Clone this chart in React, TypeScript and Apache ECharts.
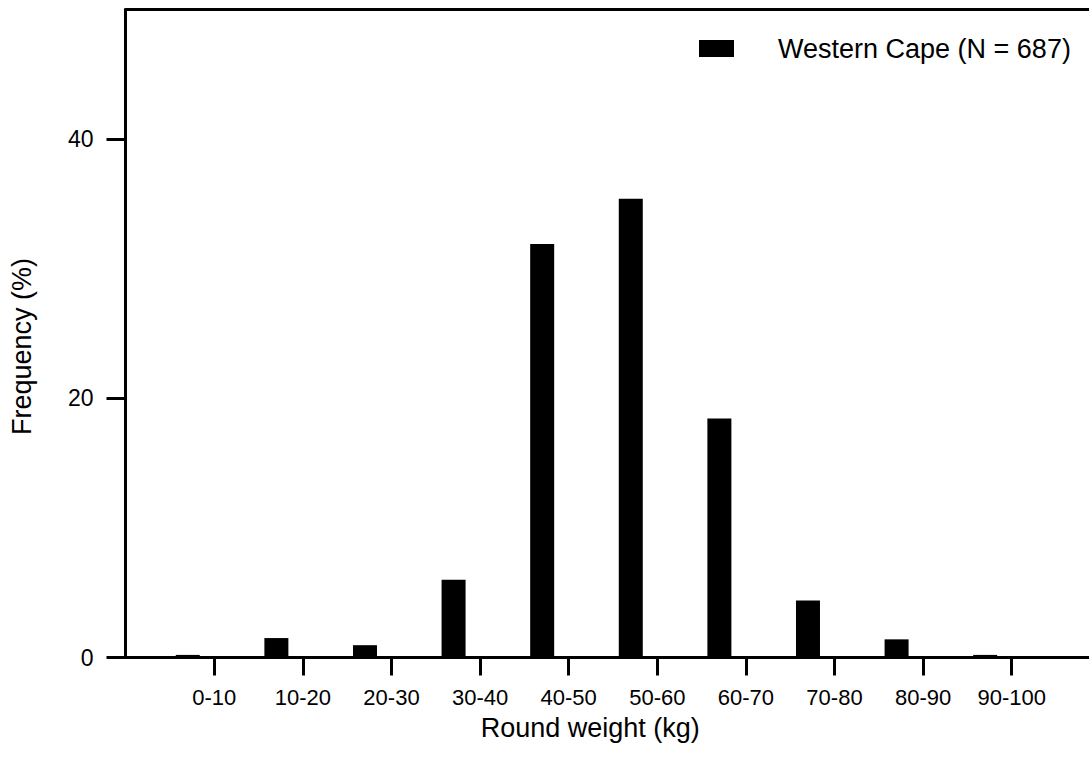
import React, { useEffect, useRef } from "react";
import * as echarts from "echarts";

const categories = ["0-10", "10-20", "20-30", "30-40", "40-50", "50-60", "60-70", "70-80", "80-90", "90-100"];
const westernCape = [0.2, 1.5, 0.95, 6.0, 31.9, 35.4, 18.45, 4.4, 1.4, 0.2];
const yTicks = [0, 20, 40];
const seriesName = "Western Cape (N = 687)";
const FONT = "'Liberation Sans', Arial, sans-serif";

export default function App() {
  const ref = useRef<HTMLDivElement>(null);
  useEffect(() => {
    if (!ref.current) return;
    const chart = echarts.init(ref.current, null, { renderer: "svg" });
    const black = "#000";
    chart.setOption({
      animation: false,
      backgroundColor: "#fff",
      textStyle: { fontFamily: FONT, color: black },
      legend: {
        data: [seriesName],
        left: 694,
        top: 30,
        itemWidth: 35,
        itemHeight: 17,
        icon: "rect",
        textStyle: { fontSize: 27, color: black, fontFamily: FONT, padding: [0, 0, 0, 39] },
      },
      grid: [
        { left: 125.5, right: 0, top: 9.5, bottom: 118.5 },
        { left: 170, width: 886, top: 9.5, bottom: 118.5 },
      ],
      xAxis: [
        {
          gridIndex: 0,
          type: "value",
          position: "bottom",
          min: 0,
          max: 1,
          axisLine: { show: true, lineStyle: { color: black, width: 3 } },
          axisTick: { show: false },
          axisLabel: { show: false },
          splitLine: { show: false },
          name: "Round weight (kg)",
          nameLocation: "middle",
          nameGap: 57,
          nameTextStyle: { fontSize: 27, color: black, fontFamily: FONT, padding: [0, 34, 0, 0] },
        },
        {
          gridIndex: 0,
          type: "value",
          position: "top",
          min: 0,
          max: 1,
          axisLine: { show: true, lineStyle: { color: black, width: 3 } },
          axisTick: { show: false },
          axisLabel: { show: false },
          splitLine: { show: false },
        },
        {
          gridIndex: 1,
          type: "category",
          data: categories,
          axisLine: { show: false },
          axisTick: { show: true, interval: 0, alignWithLabel: true, length: 18, lineStyle: { color: black, width: 3 } },
          axisLabel: { interval: 0, hideOverlap: false, fontSize: 22, color: black, fontFamily: FONT, margin: 29 },
          splitLine: { show: false },
        },
      ],
      yAxis: [
        {
          gridIndex: 0,
          type: "value",
          min: 0,
          max: 50,
          interval: 20,
          axisLine: { show: true, lineStyle: { color: black, width: 3 } },
          axisTick: { show: true, length: 19, customValues: yTicks, lineStyle: { color: black, width: 3 } },
          axisLabel: { fontSize: 23, color: black, fontFamily: FONT, margin: 32, customValues: yTicks },
          splitLine: { show: false },
          name: "Frequency (%)",
          nameLocation: "middle",
          nameGap: 90,
          nameTextStyle: { fontSize: 27, color: black, fontFamily: FONT, padding: [0, 26, 0, 0] },
        },
        {
          gridIndex: 1,
          type: "value",
          min: 0,
          max: 50,
          show: false,
        },
      ],
      series: [
        {
          name: seriesName,
          type: "bar",
          xAxisIndex: 2,
          yAxisIndex: 1,
          data: westernCape,
          barWidth: 24,
          barGap: "121%",
          itemStyle: { color: black },
        },
        {
          name: "spacer",
          type: "bar",
          xAxisIndex: 2,
          yAxisIndex: 1,
          data: [],
          barWidth: 24,
          barGap: "121%",
          itemStyle: { color: "transparent" },
        },
      ],
    });
    return () => chart.dispose();
  }, []);
  return <div ref={ref} style={{ position: "fixed", left: 0, top: 0, width: 1089, height: 776 }} />;
}
